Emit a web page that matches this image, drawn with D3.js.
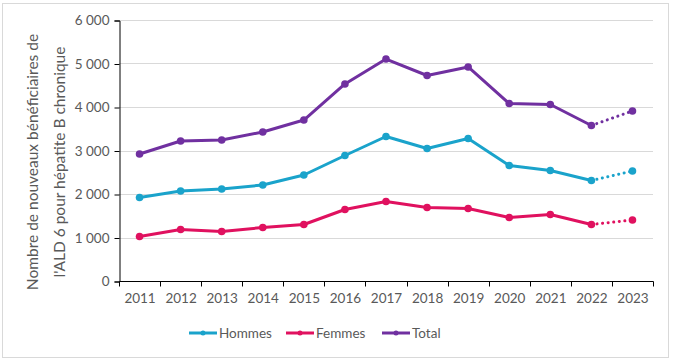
<!DOCTYPE html>
<html><head><meta charset="utf-8">
<script src="https://cdn.jsdelivr.net/npm/d3@7"></script>
<style>body{margin:0;background:#fff;}svg{display:block;font-family:Lato,"Open Sans",sans-serif;}</style>
</head><body><svg id="c" width="673" height="364"></svg>
<script>
const years = ["2011","2012","2013","2014","2015","2016","2017","2018","2019","2020","2021","2022","2023"];
const hommes = [1920,2069,2115,2207,2437,2885,3322,3046,3276,2655,2540,2310,2529];
const femmes = [1023,1184,1138,1230,1299,1644,1828,1690,1667,1460,1529,1299,1402];
const total  = [2920,3218,3241,3425,3700,4529,5103,4724,4920,4080,4057,3575,3908];
const yTicks = [0,1000,2000,3000,4000,5000,6000];
const seriesNames = ["Hommes","Femmes","Total"];
const colors = ["#1aa3cb","#e0115f","#7030a0"];
const yTitle = ["Nombre de nouveaux bénéficiaires de","l'ALD 6 pour hépatite B chronique"];

const svg = d3.select("#c");
svg.append("rect").attr("x",2.5).attr("y",3.5).attr("width",666).attr("height",354)
  .attr("fill","#fff").attr("stroke","#d9d9d9");

const m = {l:119, r:653, t:20, b:281};
const x = d3.scaleBand().domain(years).range([m.l,m.r]);
const y = d3.scaleLinear().domain([0,6000]).range([m.b,m.t]);
const fmt = v => d3.format(",")(v).replace(/,/g," ");

// grid
svg.append("g").selectAll("line").data(yTicks.filter(d=>d>0)).join("line")
  .attr("x1",m.l).attr("x2",m.r).attr("y1",d=>Math.round(y(d))+0.5).attr("y2",d=>Math.round(y(d))+0.5)
  .attr("stroke","#d9d9d9").attr("stroke-width",1);

// y axis
const ya = svg.append("g").attr("transform",`translate(${m.l+0.5},0.5)`)
  .call(d3.axisLeft(y).tickValues(yTicks).tickFormat(fmt).tickSize(5).tickPadding(5));
ya.select(".domain").attr("stroke","#000");
ya.selectAll(".tick line").attr("stroke","#000");
ya.selectAll("text").attr("font-size",13.5).attr("fill","#595959").attr("font-family","Lato,'Open Sans',sans-serif");

// x axis
const xa = svg.append("g").attr("transform",`translate(0.5,${m.b+0.5})`)
  .call(d3.axisBottom(x).tickSize(0).tickPadding(12));
xa.select(".domain").attr("stroke","#000").attr("d",`M${m.l},0H${m.r}`);
xa.selectAll("text").attr("font-size",13.5).attr("fill","#595959").attr("font-family","Lato,'Open Sans',sans-serif");
const bounds = years.map(d=>x(d)).concat([m.r]);
xa.append("g").selectAll("line").data(bounds).join("line")
  .attr("x1",d=>Math.round(d)).attr("x2",d=>Math.round(d)).attr("y1",0).attr("y2",5).attr("stroke","#000");

// y title
const yt = svg.append("text").attr("transform","translate(0,0)").attr("font-size",15).attr("fill","#595959").attr("text-anchor","middle");
yTitle.forEach((t,i)=>{
  svg.append("text").attr("transform",`translate(${38+i*27},162) rotate(-90)`)
    .attr("text-anchor","middle").attr("font-size",15.5).attr("fill","#595959").text(t);
});

// lines
const data = [hommes,femmes,total];
const cx = d => x(d)+x.bandwidth()/2;
data.forEach((vals,si)=>{
  const pts = years.map((yr,i)=>[cx(yr),y(vals[i])]);
  const line = d3.line();
  svg.append("path").attr("d",line(pts.slice(0,12))).attr("fill","none")
    .attr("stroke",colors[si]).attr("stroke-width",3).attr("stroke-linejoin","round");
  svg.append("path").attr("d",line(pts.slice(11))).attr("fill","none")
    .attr("stroke",colors[si]).attr("stroke-width",3).attr("stroke-linecap","round").attr("stroke-dasharray","0.1 5.5");
  svg.append("g").selectAll("circle").data(pts).join("circle")
    .attr("cx",d=>d[0]).attr("cy",d=>d[1]).attr("r",3.8).attr("fill",colors[si]);
});

// legend
const lx = [189,286,382];
seriesNames.forEach((n,i)=>{
  const g = svg.append("g").attr("transform",`translate(${lx[i]},333)`);
  g.append("line").attr("x1",0).attr("x2",28).attr("stroke",colors[i]).attr("stroke-width",3);
  g.append("circle").attr("cx",14).attr("r",2.5).attr("fill",colors[i]);
  g.append("text").attr("x",30).attr("y",5).attr("font-size",13.5).attr("fill","#595959").text(n);
});
</script></body></html>
